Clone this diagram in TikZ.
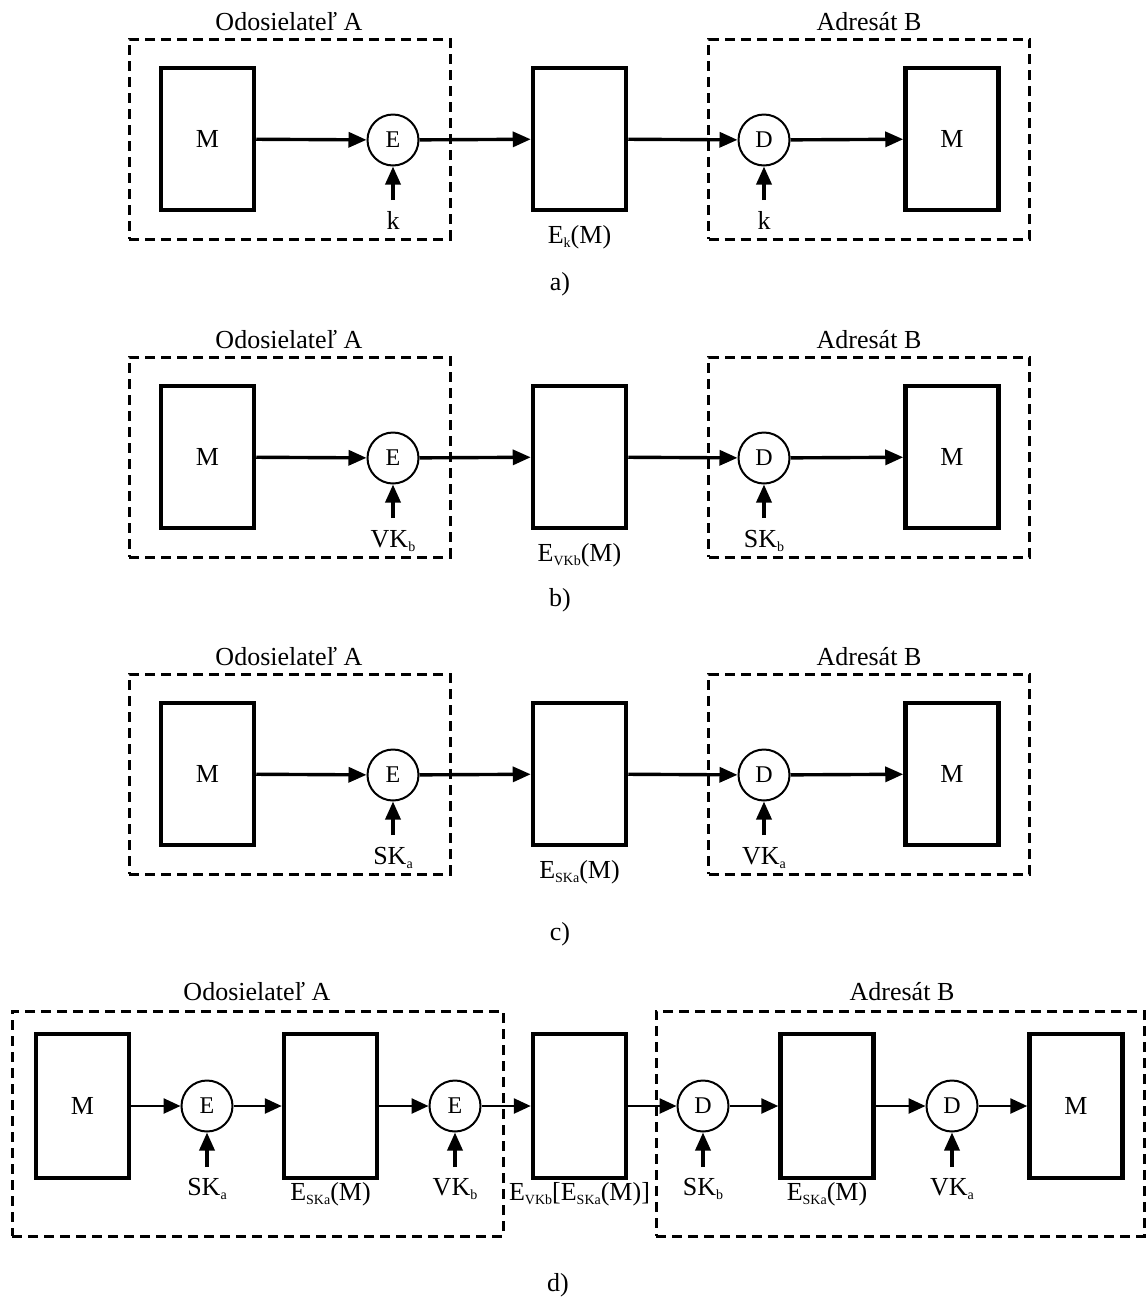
\documentclass[tikz,border=0pt]{standalone}
\usepackage{fontspec}
\setmainfont{Liberation Serif}
\usetikzlibrary{arrows.meta}
\newcommand{\ssub}[1]{\raisebox{-4pt}{\fontsize{14}{14}\selectfont #1}}
\tikzset{
  lbl/.style={font=\fontsize{26}{30}\selectfont, inner sep=0pt, anchor=base},
  blk/.style={draw, line width=4.5pt, minimum width=93pt, minimum height=142pt, inner sep=0pt, font=\fontsize{26}{30}\selectfont},
  op/.style={draw, circle, line width=2pt, minimum size=51pt, inner sep=0pt, font=\fontsize{24}{28}\selectfont},
  grp/.style={draw, line width=3pt, dash pattern=on 10pt off 6pt, inner sep=0pt},
  arr/.style={-{Triangle[length=18pt,width=15pt]}, line width=3.4pt},
  arrd/.style={-{Triangle[length=17pt,width=15pt]}, line width=2.6pt},
}
\newcommand{\mypanel}[5]{%
  \begin{scope}[yshift=-#2pt]
    \node[grp, minimum width=321pt, minimum height=200pt] (#1gA) at (289.5,139) {};
    \node[grp, minimum width=321pt, minimum height=200pt] (#1gB) at (869,139) {};
    \node[lbl] (#1tA) at (289,30) {Odosielateľ A};
    \node[lbl] (#1tB) at (869,30) {Adresát B};
    \node[blk] (#1M1) at (207.5,139) {M};
    \node[op] (#1E) at (393,140) {E};
    \node[blk] (#1X) at (579.5,139) {};
    \node[op] (#1D) at (764,140) {D};
    \node[blk] (#1M2) at (952,139) {M};
    \coordinate (#1kEs) at (393,200);
    \coordinate (#1kDs) at (764,200);
    \node[lbl] (#1kE) at (393,229) {#3};
    \node[lbl] (#1kD) at (764,229) {#5};
    \node[lbl] (#1lX) at (579.5,243) {#4};
    \draw[arr] (#1M1) -- (#1E);
    \draw[arr] (#1E) -- (#1X);
    \draw[arr] (#1X) -- (#1D);
    \draw[arr] (#1D) -- (#1M2);
    \draw[arr] (#1kEs) -- (#1E);
    \draw[arr] (#1kDs) -- (#1D);
  \end{scope}}
\begin{document}
\begin{tikzpicture}[x=1pt,y=-1pt]
\useasboundingbox[fill=white] (0,0) rectangle (1146,1302);
\mypanel{a}{0}{k}{E\ssub{k}(M)}{k}
\mypanel{b}{318}{VK\ssub{b}}{E\ssub{VKb}(M)}{SK\ssub{b}}
\mypanel{c}{635}{SK\ssub{a}}{E\ssub{SKa}(M)}{VK\ssub{a}}
\node[lbl, anchor=center] (la) at (560,284) {a)};
\node[lbl, anchor=center] (lb) at (560,600) {b)};
\node[lbl, anchor=center] (lc) at (560,934) {c)};
% panel d
\node[grp, minimum width=491pt, minimum height=225pt] (dgA) at (257.5,1123.5) {};
\node[grp, minimum width=488pt, minimum height=225pt] (dgB) at (900,1123.5) {};
\node[lbl] (dtA) at (257,1000) {Odosielateľ A};
\node[lbl] (dtB) at (902,1000) {Adresát B};
\begin{scope}[blk/.append style={minimum height=144pt}]
\node[blk] (dM1) at (82.5,1106) {M};
\node[blk] (dB2) at (330.5,1106) {};
\node[blk] (dX) at (579.5,1106) {};
\node[blk] (dB4) at (827,1106) {};
\node[blk] (dM2) at (1076,1106) {M};
\end{scope}
\node[op] (dE1) at (207,1106) {E};
\node[op] (dE2) at (455,1106) {E};
\node[op] (dD1) at (703,1106) {D};
\node[op] (dD2) at (952,1106) {D};
\coordinate (dk1s) at (207,1167);
\coordinate (dk2s) at (455,1167);
\coordinate (dk3s) at (703,1167);
\coordinate (dk4s) at (952,1167);
\node[lbl] (dk1) at (207,1195) {SK\ssub{a}};
\node[lbl] (dk2) at (455,1195) {VK\ssub{b}};
\node[lbl] (dk3) at (703,1195) {SK\ssub{b}};
\node[lbl] (dk4) at (952,1195) {VK\ssub{a}};
\node[lbl] (dl2) at (330.5,1200) {E\ssub{SKa}(M)};
\node[lbl] (dlX) at (579.5,1200) {E\ssub{VKb}[E\ssub{SKa}(M)]};
\node[lbl] (dl4) at (827,1200) {E\ssub{SKa}(M)};
\draw[arrd] (dM1) -- (dE1);
\draw[arrd] (dE1) -- (dB2);
\draw[arrd] (dB2) -- (dE2);
\draw[arrd] (dE2) -- (dX);
\draw[arrd] (dX) -- (dD1);
\draw[arrd] (dD1) -- (dB4);
\draw[arrd] (dB4) -- (dD2);
\draw[arrd] (dD2) -- (dM2);
\draw[arr] (dk1s) -- (dE1);
\draw[arr] (dk2s) -- (dE2);
\draw[arr] (dk3s) -- (dD1);
\draw[arr] (dk4s) -- (dD2);
\node[lbl, anchor=center] (ld) at (558,1285) {d)};
\end{tikzpicture}
\end{document}
